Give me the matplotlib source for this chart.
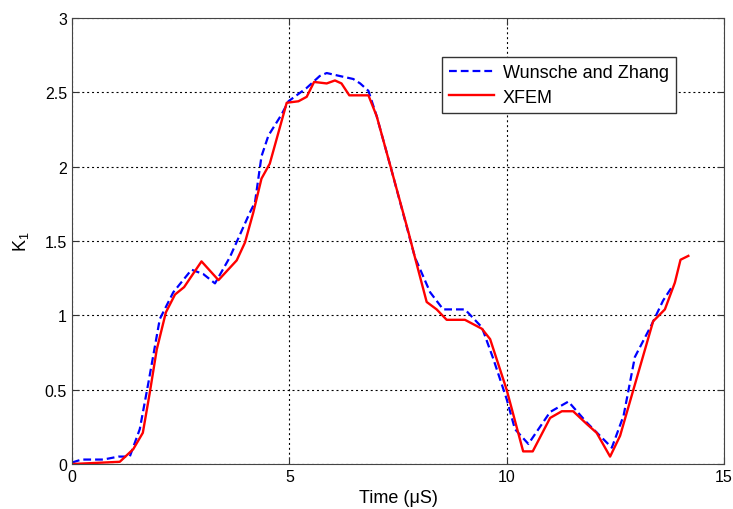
import numpy as np
import matplotlib.pyplot as plt
from matplotlib.ticker import FormatStrFormatter

plt.rcParams['font.family'] = ['Liberation Sans', 'DejaVu Sans']

# Wunsche and Zhang (reference)
t_wz = [0.0, 0.22, 0.72, 1.07, 1.33, 1.56, 1.76, 2.02, 2.33, 2.75, 3.02, 3.29,
        3.63, 4.09, 4.21, 4.36, 4.52, 4.82, 4.98, 5.40, 5.70, 5.86, 6.16, 6.47,
        6.63, 6.82, 7.01, 7.32, 7.78, 7.89, 8.24, 8.54, 9.04, 9.43, 9.69, 10.0,
        10.19, 10.50, 11.0, 11.42, 11.84, 12.42, 12.69, 12.95, 13.34, 13.6, 13.8]
k_wz = [0.01, 0.03, 0.03, 0.05, 0.05, 0.235, 0.55, 0.975, 1.155, 1.307, 1.278, 1.215,
        1.39, 1.69, 1.76, 2.07, 2.21, 2.35, 2.44, 2.53, 2.61, 2.63, 2.61, 2.59,
        2.56, 2.51, 2.34, 2.01, 1.51, 1.39, 1.155, 1.04, 1.04, 0.92, 0.71, 0.437,
        0.235, 0.135, 0.35, 0.42, 0.28, 0.11, 0.325, 0.72, 0.94, 1.10, 1.19]

# XFEM
t_xf = [0.0, 1.10, 1.41, 1.63, 1.79, 1.95, 2.16, 2.37, 2.58, 2.98, 3.37, 3.79,
        3.98, 4.17, 4.36, 4.55, 4.94, 5.21, 5.40, 5.57, 5.86, 6.05, 6.20, 6.38,
        6.63, 6.82, 7.01, 7.32, 7.74, 7.89, 8.16, 8.39, 8.62, 9.04, 9.43, 9.62,
        10.0, 10.38, 10.60, 11.0, 11.27, 11.53, 11.84, 12.07, 12.38, 12.61, 13.37,
        13.64, 13.87, 14.0, 14.18]
k_xf = [0.0, 0.015, 0.10, 0.21, 0.48, 0.77, 1.02, 1.14, 1.19, 1.363, 1.237, 1.37,
        1.49, 1.69, 1.92, 2.02, 2.43, 2.44, 2.47, 2.57, 2.56, 2.58, 2.56, 2.48,
        2.48, 2.48, 2.34, 2.01, 1.56, 1.39, 1.09, 1.04, 0.97, 0.97, 0.91, 0.84,
        0.50, 0.085, 0.085, 0.31, 0.355, 0.355, 0.27, 0.21, 0.05, 0.19, 0.96,
        1.04, 1.22, 1.374, 1.40]

fig = plt.figure(figsize=(7.33, 5.10), dpi=100)
ax = fig.add_axes([0.0982, 0.0882, 0.8895, 0.8745])

ax.plot(t_wz, k_wz, color='#0000ff', ls=(0, (3.5, 1.8)), lw=1.6, label='Wunsche and Zhang')
ax.plot(t_xf, k_xf, color='#ff0000', ls='-', lw=1.7, label='XFEM')

ax.set_xlim(0, 15)
ax.set_ylim(0, 3)
ax.set_xticks([0, 5, 10, 15])
ax.set_yticks(np.arange(0, 3.01, 0.5))
ax.yaxis.set_major_formatter(FormatStrFormatter('%g'))
ax.grid(True, color='black', ls=(0, (1.8, 2.6)), lw=0.8)
ax.tick_params(direction='in', top=True, right=True, labelsize=11.5, length=5,
               width=0.8, color='#333333')
for s in ax.spines.values():
    s.set_color('#444444')

ax.set_xlabel('Time (\u03bcS)', fontsize=13, labelpad=4)
ax.set_ylabel('K$_\\mathregular{1}$', fontsize=13, labelpad=10)

leg = ax.legend(loc='upper left', bbox_to_anchor=(0.567, 0.913), fontsize=13,
                fancybox=False, edgecolor='#333333', framealpha=1,
                handlelength=2.5, borderpad=0.42, labelspacing=0.4, handletextpad=0.45,
                borderaxespad=0)
leg.get_frame().set_linewidth(1.0)

fig.savefig('out.png', dpi=100)
